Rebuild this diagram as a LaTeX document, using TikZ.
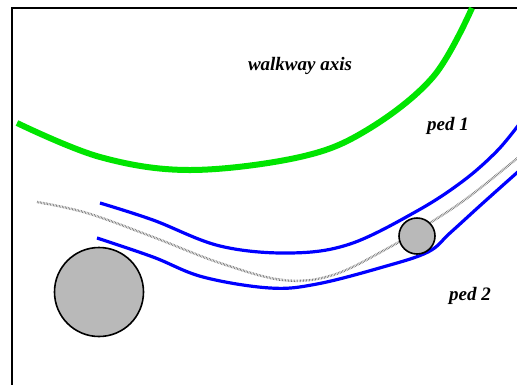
\documentclass[tikz,border=0pt]{standalone}
\usepackage{fontspec}
\setmainfont{Liberation Serif}
\begin{document}
\begin{tikzpicture}[x=1pt,y=-1pt,
  axisline/.style={draw=green!90!black, line width=6pt},
  pedline/.style={draw=blue, line width=3.2pt},
  trackline/.style={draw=black!55, line width=2.4pt, dash pattern=on 0.6pt off 0.9pt},
  obstacle/.style={circle, draw=black, line width=1.6pt, fill=gray!55, inner sep=0pt},
  lab/.style={font=\fontsize{19}{22}\selectfont\bfseries\itshape, inner sep=0pt}]
\useasboundingbox (0,0) rectangle (517,384);
\fill[white] (0,0) rectangle (517,384);
% frame
\draw[line width=2pt] (12,400) -- (12,8) -- (530,8);
% walkway axis
\draw[axisline] plot[smooth, tension=0.6] coordinates {(17,123) (100,157) (190,170) (300,157) (367,130) (433,77) (472,8)};
% pedestrian tracks
\draw[trackline] plot[smooth, tension=0.6] coordinates {(37,202) (87,213) (153,237) (220,263) (283,280) (333,275) (390,247) (433,221) (470,196) (520,156)};
\draw[pedline] plot[smooth, tension=0.6] coordinates {(100,203) (153,220) (220,246) (290,253) (350,244) (417,211) (463,181) (497,151) (520,123)};
\draw[pedline] plot[smooth, tension=0.6] coordinates {(97,238) (153,257) (203,277) (270,288) (317,284) (383,267) (428,252) (450,233) (483,203) (520,170)};
% obstacles
\node[obstacle, minimum size=89pt] (big) at (99,292) {};
\node[obstacle, minimum size=36pt] (small) at (417,236) {};
% labels
\node[lab] (axis) at (300,66) {walkway axis};
\node[lab] (ped1) at (448,126) {ped 1};
\node[lab] (ped2) at (470,296) {ped 2};
\end{tikzpicture}
\end{document}
